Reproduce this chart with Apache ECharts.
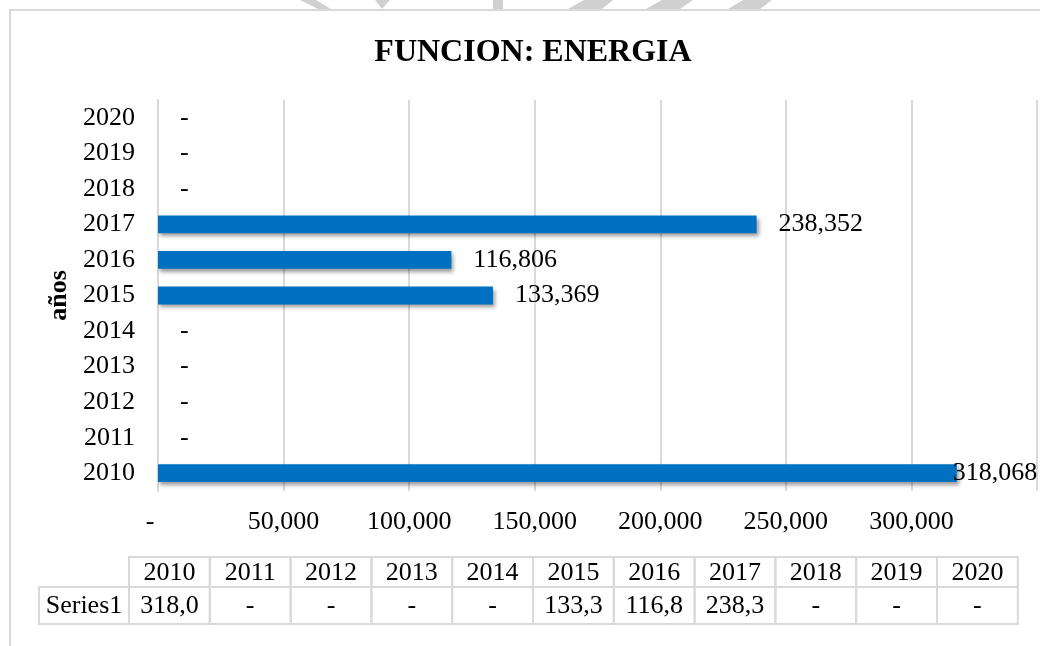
<!DOCTYPE html>
<html>
<head>
<meta charset="utf-8">
<title>FUNCION: ENERGIA</title>
<script src="https://cdn.jsdelivr.net/npm/echarts@6/dist/echarts.min.js"></script>
<style>
  html, body { margin: 0; padding: 0; background: #fff; }
  #main { width: 1040px; height: 646px; }
</style>
</head>
<body>
<div id="main"></div>
<script>
// datos
var years = ['2010', '2011', '2012', '2013', '2014', '2015', '2016', '2017', '2018', '2019', '2020'];
var energia = [318068, 0, 0, 0, 0, 133369, 116806, 238352, 0, 0, 0];
var xTicks = [0, 50000, 100000, 150000, 200000, 250000, 300000];
var seriesName = 'Series1';

var FONT = "'Times New Roman', 'Liberation Serif', serif";
var BORDER = '#d9d9d9';

function fmtMiles(v) {
    if (!v) return '-';
    return v.toLocaleString('en-US');
}
// la tabla de excel corta el numero (miles con un decimal)
function fmtTabla(v) {
    if (!v) return '-';
    return (Math.floor(v / 100) / 10).toFixed(1).replace('.', ',');
}

// tabla de datos bajo el grafico
function tablaDatos() {
    var els = [];
    var x0 = 129, colW = 80.8, firstX = 39;
    var y0 = 557, y1 = 587, y2 = 624;
    function cell(x, y, w, h) {
        return {type: 'rect', shape: {x: x, y: y, width: w, height: h},
            style: {fill: 'none', stroke: BORDER, lineWidth: 2}, silent: true};
    }
    function txt(t, cx, cy) {
        return {type: 'text', x: cx, y: cy,
            style: {text: t, font: '26px ' + FONT, fill: '#000', align: 'center', verticalAlign: 'middle'}, silent: true};
    }
    els.push(cell(firstX, y1, x0 - firstX, y2 - y1));
    els.push(txt(seriesName, (firstX + x0) / 2, (y1 + y2) / 2 + 1));
    for (var i = 0; i < years.length; i++) {
        var x = x0 + i * colW;
        els.push(cell(x, y0, colW, y1 - y0));
        els.push(cell(x, y1, colW, y2 - y1));
        els.push(txt(years[i], x + colW / 2, (y0 + y1) / 2 + 1));
        els.push(txt(fmtTabla(energia[i]), x + colW / 2, (y1 + y2) / 2 + 1));
    }
    return els;
}

// marca de agua gris cortada arriba
var marcaAgua = [
    [[300, 0], [316, 0], [331, 9], [318, 9]],
    [[375, 0], [390, 0], [382, 9]],
    [[493, 0], [503, 0], [503, 9], [493, 9]],
    [[584, 0], [613, 0], [602, 9], [568, 9]],
    [[662, 0], [693, 0], [680, 9], [646, 9]],
    [[743, 0], [772, 0], [760, 9], [728, 9]]
].map(function (p) {
    return {type: 'polygon', shape: {points: p}, style: {fill: '#d0d0d0'}, silent: true};
});

var chart = echarts.init(document.getElementById('main'));
var option = {
    backgroundColor: '#fff',
    animation: false,
    title: {
        text: 'FUNCION: ENERGIA',
        left: 528,
        textAlign: 'center',
        top: 32,
        textStyle: {fontFamily: FONT, fontSize: 32, fontWeight: 'bold', color: '#000'}
    },
    grid: {
        left: 158,
        top: 100,
        bottom: 155,
        right: -4
    },
    xAxis: {
        type: 'value',
        min: 0,
        max: 350000,
        interval: 50000,
        axisLine: {show: false},
        axisTick: {show: false},
        splitLine: {show: true, lineStyle: {color: BORDER, width: 2}},
        axisLabel: {
            margin: 18,
            fontFamily: FONT,
            fontSize: 26,
            color: '#000',
            formatter: function (v) {
                if (v === 0) return '{d|-}';
                return xTicks.indexOf(v) >= 0 ? fmtMiles(v) : '';
            },
            rich: {
                d: {fontFamily: FONT, fontSize: 26, color: '#000', padding: [0, 16, 0, 0]}
            }
        }
    },
    yAxis: {
        type: 'category',
        data: years,
        name: 'años',
        nameLocation: 'middle',
        nameRotate: 90,
        nameGap: 82,
        nameTextStyle: {fontFamily: FONT, fontSize: 26, fontWeight: 'bold', color: '#000'},
        axisLine: {show: true, lineStyle: {color: BORDER, width: 2}},
        axisTick: {show: false},
        axisLabel: {margin: 23, fontFamily: FONT, fontSize: 26, color: '#000'}
    },
    series: [{
        name: seriesName,
        type: 'bar',
        barCategoryGap: '50%',
        data: energia.map(function (v) {
            // la etiqueta que no cabe se mete sobre la barra
            if (v > 300000) return {value: v, label: {offset: [-26, 0]}};
            return v;
        }),
        itemStyle: {
            color: '#0070C0',
            shadowColor: 'rgba(0,0,0,0.4)',
            shadowBlur: 4,
            shadowOffsetX: 2,
            shadowOffsetY: 3
        },
        label: {
            show: true,
            position: 'right',
            distance: 22,
            fontFamily: FONT,
            fontSize: 26,
            color: '#000',
            formatter: function (p) { return fmtMiles(p.value); }
        }
    }],
    graphic: [
        {type: 'rect', shape: {x: 10, y: 10, width: 1040, height: 650},
            style: {fill: 'none', stroke: BORDER, lineWidth: 2}, silent: true, z: -1}
    ].concat(marcaAgua).concat(tablaDatos())
};
chart.setOption(option);
</script>
</body>
</html>
